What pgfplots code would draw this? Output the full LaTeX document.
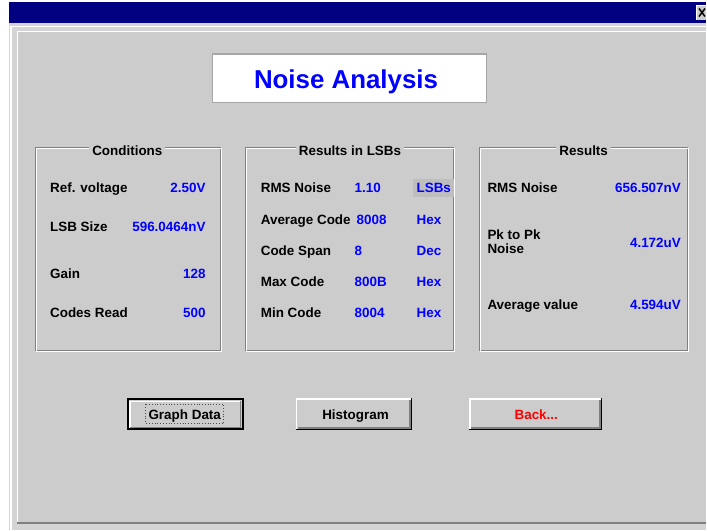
\documentclass[border=0pt]{standalone}
\usepackage{pgfplots}
\pgfplotsset{compat=1.18}
\usepackage{fontspec}
\setmainfont{Liberation Sans}
\definecolor{navy}{RGB}{0,0,128}
\definecolor{face}{RGB}{204,204,204}
\definecolor{outer}{RGB}{212,212,212}
\definecolor{shadow}{RGB}{128,128,128}
\definecolor{winblue}{RGB}{0,0,255}
\definecolor{winred}{RGB}{255,0,0}
\definecolor{hl}{RGB}{190,190,190}
\begin{document}
\begin{tikzpicture}[
  lbl/.style={font=\fontsize{13.5}{15}\selectfont\bfseries,inner sep=0pt,text=black},
  val/.style={font=\fontsize{13.5}{15}\selectfont\bfseries,inner sep=0pt,text=winblue}]
\begin{axis}[width=707bp,height=531bp,scale only axis,
  xmin=0,xmax=707,ymin=0,ymax=531,y dir=reverse,
  axis lines=none,clip=false]
\addplot[draw=none] coordinates {(0,0) (707,531)};
% window background
\fill[white] (0,0) rectangle (707,531);
\fill[outer] (9,23) rectangle (707,531);
\fill[navy] (9,2) rectangle (707,23);
\draw[white,line width=1.5bp] (11,531) -- (11,26.5) -- (707,26.5);
% inner panel
\fill[face] (17,31) rectangle (707,524);
\draw[white,line width=1.5bp] (17.5,524) -- (17.5,31.5) -- (707,31.5);
\draw[shadow,line width=2bp] (17,524) -- (707,524);
% close button
\fill[face] (697,5) rectangle (707,20);
\draw[white] (697.5,20) -- (697.5,5.5) -- (707,5.5);
\draw[black,line width=1.5bp] (700,8.5) -- (706,16.5) (706,8.5) -- (700,16.5);
% title box
\fill[white] (213,54) rectangle (487,103);
\draw[shadow!70,line width=1.2bp] (213,54) rectangle (487,103);
\node[anchor=base,inner sep=0pt,text=winblue,font=\fontsize{26}{30}\selectfont\bfseries] at (346.5,89) {Noise Analysis};
% group boxes (etched)
\draw[shadow] (35,147) rectangle (221,351);
\draw[white] (36,148) rectangle (222,352);
\draw[shadow] (246,147) rectangle (454,351);
\draw[white] (247,148) rectangle (455,352);
\draw[shadow] (480,147) rectangle (688,351);
\draw[white] (481,148) rectangle (689,352);
\node[lbl,anchor=base,fill=face,inner xsep=3bp,inner ysep=1bp] at (127.5,156) {Conditions};
\node[lbl,anchor=base,fill=face,inner xsep=3bp,inner ysep=1bp] at (350.5,156) {Results in LSBs};
\node[lbl,anchor=base,fill=face,inner xsep=3bp,inner ysep=1bp] at (584.5,156) {Results};
% Conditions
\node[lbl,anchor=base west] at (50,193) {Ref. voltage};
\node[lbl,anchor=base west] at (50,232) {LSB Size};
\node[lbl,anchor=base west] at (50,279) {Gain};
\node[lbl,anchor=base west] at (50,318) {Codes Read};
\node[val,anchor=base east] at (206,193) {2.50V};
\node[val,anchor=base east] at (206,232) {596.0464nV};
\node[val,anchor=base east] at (206,279) {128};
\node[val,anchor=base east] at (206,318) {500};
% Results in LSBs
\fill[hl] (414,179) rectangle (455,197);
\node[lbl,anchor=base west] at (261,193) {RMS Noise};
\node[lbl,anchor=base west] at (261,225) {Average Code};
\node[lbl,anchor=base west] at (261,256) {Code Span};
\node[lbl,anchor=base west] at (261,287) {Max Code};
\node[lbl,anchor=base west] at (261,318) {Min Code};
\node[val,anchor=base west] at (355,193) {1.10};
\node[val,anchor=base west] at (357,225) {8008};
\node[val,anchor=base west] at (355,256) {8};
\node[val,anchor=base west] at (355,287) {800B};
\node[val,anchor=base west] at (355,318) {8004};
\node[val,anchor=base west] at (417,193) {LSBs};
\node[val,anchor=base west] at (417,225) {Hex};
\node[val,anchor=base west] at (417,256) {Dec};
\node[val,anchor=base west] at (417,287) {Hex};
\node[val,anchor=base west] at (417,318) {Hex};
% Results
\node[lbl,anchor=base west] at (488,193) {RMS Noise};
\node[lbl,anchor=base west] at (488,240) {Pk to Pk};
\node[lbl,anchor=base west] at (488,254) {Noise};
\node[lbl,anchor=base west] at (488,310) {Average value};
\node[val,anchor=base east] at (682,193) {656.507nV};
\node[val,anchor=base east] at (682,248) {4.172uV};
\node[val,anchor=base east] at (682,310) {4.594uV};
% buttons
% Graph Data (default)
\fill[face] (127,399) rectangle (244,431);
\draw[white,line width=1.5bp] (130,429) -- (130,402) -- (241,402);
\draw[shadow,line width=1.5bp] (130,428.5) -- (241,428.5) -- (241,402);
\draw[black,line width=2bp] (128,400) rectangle (243,430);
\draw[black!70,dotted,line width=0.8bp] (146,405) rectangle (224,424);
\node[lbl,anchor=base] at (185,420) {Graph Data};
% Histogram
\fill[face] (296,399) rectangle (413,431);
\draw[white,line width=1.5bp] (296.75,431) -- (296.75,399.75) -- (413,399.75);
\draw[black,line width=1.5bp] (296,430.25) -- (412.25,430.25) -- (412.25,399);
\draw[shadow,line width=1.5bp] (298,428.75) -- (410.75,428.75) -- (410.75,401);
\node[lbl,anchor=base] at (356,420) {Histogram};
% Back...
\fill[face] (470,399) rectangle (603,431);
\draw[white,line width=1.5bp] (470.75,431) -- (470.75,399.75) -- (603,399.75);
\draw[black,line width=1.5bp] (470,430.25) -- (602.25,430.25) -- (602.25,399);
\draw[shadow,line width=1.5bp] (472,428.75) -- (600.75,428.75) -- (600.75,401);
\node[lbl,anchor=base,text=winred] at (537,420) {Back...};
\end{axis}
\end{tikzpicture}
\end{document}
